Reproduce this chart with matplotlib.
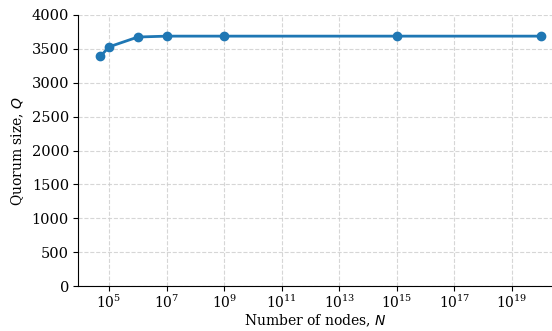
import matplotlib
matplotlib.use("Agg")
import matplotlib.pyplot as plt

N = [5e4, 1e5, 1e6, 1e7, 1e9, 1e15, 1e20]
Q = [3390, 3530, 3675, 3688, 3688, 3688, 3688]

plt.rcParams['font.family'] = ['DejaVu Serif']
fig = plt.figure(figsize=(5.52, 3.31), dpi=100)
ax = fig.add_axes([78/552, 45/331, (552-78)/552, (286-15)/331])
ax.plot(N, Q, marker='o', color='#1f77b4', linewidth=2, markersize=6)
ax.set_xscale('log')
ax.set_xlim(10**3.92, 10**20.39)
ax.set_ylim(0, 4000)
ax.set_yticks(range(0, 4001, 500))
ax.set_xticks([10**k for k in range(5, 20, 2)])
ax.minorticks_off()
ax.grid(True, linestyle='--', color='#cccccc', alpha=0.8, linewidth=0.8)
ax.spines['top'].set_visible(False)
ax.spines['right'].set_visible(False)
ax.set_xlabel('Number of nodes, $N$', fontsize=10, labelpad=1)
ax.set_ylabel('Quorum size, $Q$', fontsize=10)
ax.tick_params(axis='x', labelsize=10, pad=2)
ax.tick_params(axis='y', labelsize=10.5, pad=3)
fig.savefig('out.png', dpi=100)
